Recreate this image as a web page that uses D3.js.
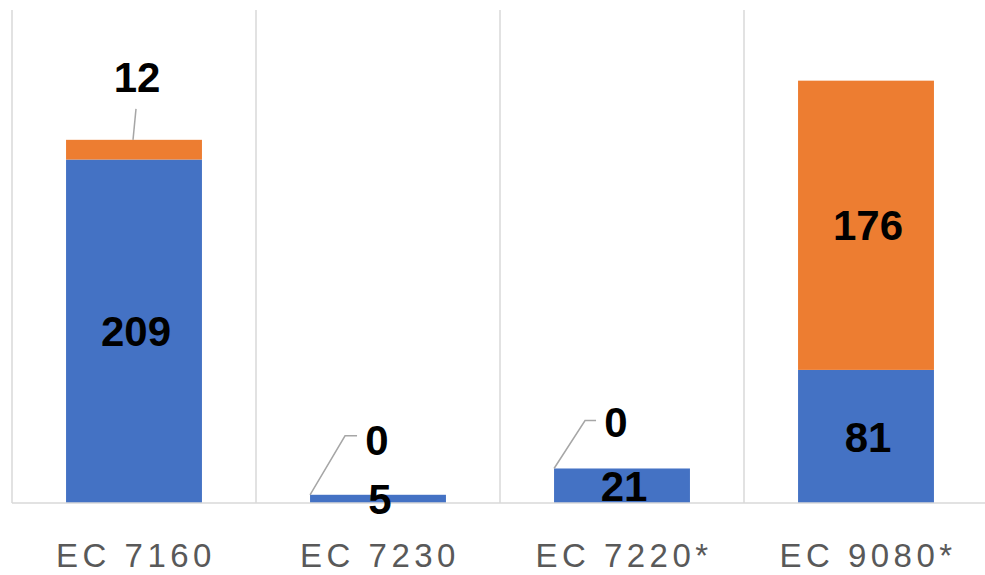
<!DOCTYPE html>
<html>
<head>
<meta charset="utf-8">
<script src="https://cdn.jsdelivr.net/npm/d3@7"></script>
<style>
  html, body { margin: 0; padding: 0; background: #ffffff; }
  svg { display: block; }
</style>
</head>
<body>
<svg id="chart" width="985" height="575"></svg>
<script>
// Data
const categories = ["EC 7160", "EC 7230", "EC 7220*", "EC 9080*"];
const blueValues = [209, 5, 21, 81];
const orangeValues = [12, 0, 0, 176];
const seriesKeys = ["blue", "orange"];
const seriesColors = { blue: "#4472C4", orange: "#ED7D31" };

const rows = categories.map((c, i) => ({ cat: c, blue: blueValues[i], orange: orangeValues[i] }));

const plot = { left: 12, right: 988, top: 10, bottom: 503 };

const svg = d3.select("#chart");

const x = d3.scaleBand().domain(categories).range([plot.left, plot.right]).padding(0);
const y = d3.scaleLinear().domain([0, 300]).range([plot.bottom, plot.top]);
const barFrac = 0.557;
const barW = x.bandwidth() * barFrac;
const barX = c => x(c) + (x.bandwidth() - barW) / 2;

// Vertical gridlines at category boundaries
const bounds = categories.map(c => x(c)).concat([x.range()[1]]);
svg.append("g").selectAll("line").data(bounds).join("line")
  .attr("x1", d => d).attr("x2", d => d)
  .attr("y1", plot.top).attr("y2", plot.bottom)
  .attr("stroke", "#d9d9d9").attr("stroke-width", 1.5);

// Stacked bars
const stacked = d3.stack().keys(seriesKeys)(rows);
svg.append("g").selectAll("g").data(stacked).join("g")
  .attr("fill", d => seriesColors[d.key])
  .selectAll("rect").data(d => d).join("rect")
  .attr("x", d => barX(d.data.cat))
  .attr("width", barW)
  .attr("y", d => y(d[1]))
  .attr("height", d => y(d[0]) - y(d[1]));

// Baseline
svg.append("line")
  .attr("x1", plot.left).attr("x2", plot.right)
  .attr("y1", plot.bottom).attr("y2", plot.bottom)
  .attr("stroke", "#d9d9d9").attr("stroke-width", 1.5);

// Category axis labels
const xAxis = d3.axisBottom(x).tickSize(0).tickPadding(0);
const gx = svg.append("g").attr("transform", `translate(0,${plot.bottom})`).call(xAxis);
gx.select(".domain").remove();
gx.selectAll("text")
  .attr("dy", 0).attr("y", 64)
  .attr("font-family", "'Liberation Sans', Arial, sans-serif")
  .attr("font-size", 33)
  .attr("letter-spacing", 4.5)
  .attr("fill", "#595959")
  .attr("text-anchor", "middle")
  .attr("dx", 2);

const labelFont = "'Liberation Sans', Arial, sans-serif";
const labels = svg.append("g")
  .attr("font-family", labelFont)
  .attr("font-weight", "bold")
  .attr("font-size", 42)
  .attr("fill", "#000")
  .attr("text-anchor", "middle");

// Blue segment labels, centred in each segment
rows.forEach(r => {
  const cx = x(r.cat) + x.bandwidth() / 2;
  const cy = (y(0) + y(r.blue)) / 2;
  labels.append("text").attr("x", cx + 2).attr("y", cy).attr("dy", "0.36em").text(r.blue);
});

// Callout placement for zero-height segments, relative to the bar's top-left corner
const calloutOffsets = {
  "EC 7230": { elbow: [35, -59], tail: 12, label: [67, -55] },
  "EC 7220*": { elbow: [31, -48], tail: 11, label: [62, -46.5] }
};

// Orange segment labels: inside when tall enough, otherwise pulled out with a leader line
const leaders = svg.append("g").attr("fill", "none").attr("stroke", "#a6a6a6").attr("stroke-width", 1.5);
rows.forEach(r => {
  const cx = x(r.cat) + x.bandwidth() / 2;
  const top = y(r.blue + r.orange);
  const h = y(r.blue) - top;
  if (h > 60) {
    labels.append("text").attr("x", cx + 2).attr("y", (top + y(r.blue)) / 2).attr("dy", "0.36em").text(r.orange);
  } else if (r.orange > 0) {
    // label sits above the bar, joined by a short stem
    labels.append("text").attr("x", cx + 3).attr("y", top - 48).text(r.orange);
    leaders.append("path").attr("d", `M${cx - 1},${top} L${cx + 2},${top - 31}`);
  } else {
    const o = calloutOffsets[r.cat];
    const bx = barX(r.cat);
    const p1 = [bx + o.elbow[0], top + o.elbow[1]];
    const p2 = [p1[0] + o.tail, p1[1]];
    labels.append("text").attr("x", bx + o.label[0]).attr("y", top + o.label[1]).attr("dy", "0.36em").text(r.orange);
    leaders.append("path").attr("d", `M${bx},${top} L${p1[0]},${p1[1]} L${p2[0]},${p2[1]}`);
  }
});
</script>
</body>
</html>
